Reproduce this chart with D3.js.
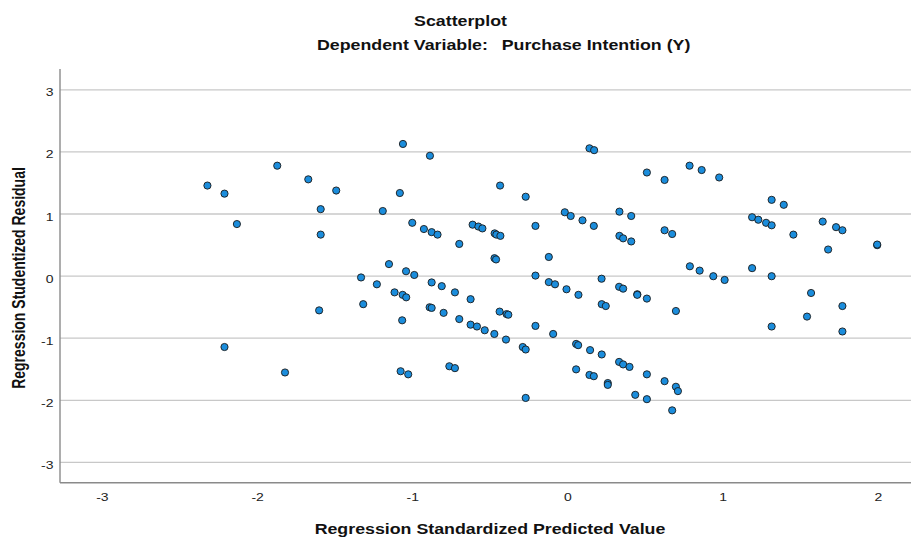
<!DOCTYPE html>
<html>
<head>
<meta charset="utf-8">
<script src="https://cdn.jsdelivr.net/npm/d3@7"></script>
<style>
  body { margin: 0; background: #fff; }
  svg { display: block; font-family: "Liberation Sans", Arial, sans-serif; }
</style>
</head>
<body>
<svg id="chart" width="911" height="538"></svg>
<script>
// standardized predicted value (x) and studentized residual (y)
const predicted = [
  -2.32, -2.21, -2.13, -1.87, -1.67, -1.49, -1.59, -1.59, -1.06, -0.886,
  -1.08, -1.19, -1.00, -0.925, -0.875, -0.837, -0.697, -0.611, -0.574, -0.548,
  -0.469, -0.458, -0.432, -0.434, -0.47, -0.46, -0.269, -0.206, -0.12, -0.206,
  -0.017, 0.021, 0.097, 0.17, 0.142, 0.172, -1.15, -1.04, -0.987, -1.33,
  0.512, 0.626, 0.787, 0.865, 0.978, 0.335, 0.411, 0.335, 0.359, 0.411,
  0.626, 0.675, 1.316, 1.394, 1.19, 1.23, 1.28, 1.316, 1.456, 1.645,
  1.731, 1.772, 1.68, 1.996, 1.996, 0.789, 0.852, 0.94, 1.013, 1.19,
  1.316, 0.22, -2.21, -1.82, -1.60, -1.228, -1.316, -1.114, -1.062, -1.039,
  -1.065, -0.875, -0.81, -0.725, -0.624, -0.888, -0.875, -0.798, -0.697, -0.624,
  -0.583, -0.533, -0.471, -0.396, -0.437, -0.392, -0.381, -0.288, -0.269, -0.206,
  -0.092, -0.12, -0.08, -0.006, 0.071, 0.056, 0.069, 0.146, 0.056, 0.142,
  0.17, -1.075, -1.026, -0.761, -0.725, -0.269, 0.221, 0.247, 0.333, 0.359,
  0.45, 0.45, 0.512, 0.699, 0.221, 0.333, 0.359, 0.40, 0.512, 0.26,
  0.26, 0.437, 0.512, 0.626, 0.699, 0.712, 0.675, 1.57, 1.544, 1.316,
  1.772, 1.772
];
const residual = [
  1.45, 1.32, 0.83, 1.77, 1.55, 1.37, 1.07, 0.66, 2.12, 1.93,
  1.33, 1.04, 0.85, 0.75, 0.70, 0.66, 0.51, 0.82, 0.79, 0.76,
  0.68, 0.66, 0.64, 1.45, 0.28, 0.26, 1.27, 0.80, 0.30, 0.00,
  1.02, 0.96, 0.89, 0.80, 2.05, 2.02, 0.185, 0.07, 0.01, -0.03,
  1.66, 1.54, 1.77, 1.70, 1.58, 1.03, 0.96, 0.64, 0.60, 0.55,
  0.73, 0.67, 1.22, 1.14, 0.94, 0.90, 0.85, 0.81, 0.66, 0.87,
  0.78, 0.73, 0.42, 0.49, 0.50, 0.15, 0.08, -0.01, -0.07, 0.12,
  -0.01, -0.05, -1.15, -1.56, -0.56, -0.14, -0.46, -0.27, -0.31, -0.35,
  -0.72, -0.11, -0.17, -0.27, -0.38, -0.51, -0.52, -0.60, -0.70, -0.79,
  -0.82, -0.88, -0.94, -1.03, -0.58, -0.62, -0.63, -1.15, -1.19, -0.81,
  -0.94, -0.105, -0.14, -0.22, -0.31, -1.10, -1.12, -1.20, -1.51, -1.60,
  -1.62, -1.54, -1.59, -1.46, -1.49, -1.97, -0.46, -0.49, -0.18, -0.21,
  -0.30, -0.31, -0.37, -0.57, -1.27, -1.39, -1.43, -1.47, -1.59, -1.73,
  -1.76, -1.92, -1.99, -1.70, -1.79, -1.86, -2.17, -0.28, -0.66, -0.82,
  -0.49, -0.90
];
const xTicks = [-3, -2, -1, 0, 1, 2];
const yTicks = [-3, -2, -1, 0, 1, 2, 3];

const title = 'Scatterplot';
const subtitleLead = 'Dependent Variable:';
const subtitleVar = 'Purchase Intention (Y)';
const xTitle = 'Regression Standardized Predicted Value';
const yTitle = 'Regression Studentized Residual';

// the source image is stretched sideways, so text gets the same squash
const stretch = 1.27;
const plain = d => String(d);  // hyphen minus, like SPSS

const svg = d3.select('#chart'),
  plotLeft = 60, plotRight = 911, plotTop = 69, plotBottom = 482.7;

const x = d3.scaleLinear()
  .domain([-3.27, 2.214])
  .range([plotLeft, plotRight]);

const y = d3.scaleLinear()
  .domain([-3.335, 3.327])
  .range([plotBottom, plotTop]);

// horizontal gridlines + y tick labels
const gy = svg.append('g')
  .attr('transform', 'translate(' + plotLeft + ',0)')
  .call(d3.axisLeft(y).tickValues(yTicks).tickSize(-(plotRight - plotLeft)).tickFormat(plain));
gy.select('.domain').remove();
gy.selectAll('.tick line')
  .attr('stroke', '#c8c8c8')
  .attr('stroke-width', 1.3);
gy.selectAll('.tick text')
  .attr('x', null).attr('dy', null)
  .attr('text-anchor', 'end')
  .attr('transform', 'translate(-6.5,6.5) scale(' + stretch + ',1)')
  .attr('font-size', 11)
  .attr('font-family', '"Liberation Sans", Arial, sans-serif')
  .attr('fill', '#222');

// x tick labels
const gx = svg.append('g')
  .attr('transform', 'translate(0,' + plotBottom + ')')
  .call(d3.axisBottom(x).tickValues(xTicks).tickSize(0).tickFormat(plain));
gx.select('.domain').remove();
gx.selectAll('.tick text')
  .attr('y', null).attr('dy', null)
  .attr('text-anchor', 'middle')
  .attr('transform', 'translate(0,18.3) scale(' + stretch + ',1)')
  .attr('font-size', 11)
  .attr('font-family', '"Liberation Sans", Arial, sans-serif')
  .attr('fill', '#222');

// axis lines
svg.append('line')
  .attr('x1', plotLeft).attr('x2', plotLeft)
  .attr('y1', plotTop).attr('y2', plotBottom)
  .attr('stroke', '#8a8a8a')
  .attr('stroke-width', 1.4);
svg.append('line')
  .attr('x1', plotLeft).attr('x2', plotRight)
  .attr('y1', plotBottom).attr('y2', plotBottom)
  .attr('stroke', '#8a8a8a')
  .attr('stroke-width', 1.4);

// points
svg.append('g')
  .selectAll('circle')
  .data(predicted.map((p, i) => [p, residual[i]]))
  .join('circle')
  .attr('cx', d => x(d[0]))
  .attr('cy', d => y(d[1]))
  .attr('r', 3.6)
  .attr('fill', '#1b8ddc')
  .attr('stroke', '#1a1a1a')
  .attr('stroke-width', 0.9);

function label(txt, tx, ty, anchor) {
  return svg.append('text')
    .attr('transform', 'translate(' + tx + ',' + ty + ') scale(' + stretch + ',1)')
    .attr('text-anchor', anchor)
    .attr('font-size', 14)
    .attr('font-weight', 'bold')
    .attr('fill', '#111')
    .text(txt);
}

label(title, 460.5, 25.7, 'middle');
label(subtitleLead, 317, 50, 'start');
label(subtitleVar, 501.7, 50, 'start');
label(xTitle, 490, 534, 'middle');

// y title: rotated, thickness is the stretched direction
svg.append('text')
  .attr('transform', 'translate(25,278) rotate(-90) scale(1,' + stretch + ')')
  .attr('text-anchor', 'middle')
  .attr('font-size', 14)
  .attr('font-weight', 'bold')
  .attr('fill', '#111')
  .text(yTitle);
</script>
</body>
</html>
